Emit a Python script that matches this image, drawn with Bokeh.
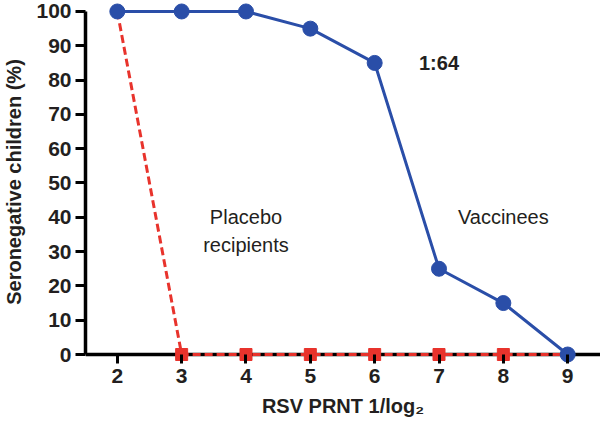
from bokeh.plotting import figure
from bokeh.models import Span, Label, FixedTicker, Range1d
from bokeh.embed import file_html
from bokeh.resources import INLINE

# ---- data ----
titer = [2, 3, 4, 5, 6, 7, 8, 9]
vaccinees = [100, 100, 100, 95, 85, 25, 15, 0]
placebo = [100, 0, 0, 0, 0, 0, 0, 0]
placebo_marker_x = [3, 4, 5, 6, 7, 8]
placebo_marker_y = [0, 0, 0, 0, 0, 0]
x_ticks = [2, 3, 4, 5, 6, 7, 8, 9]
y_ticks = [0, 10, 20, 30, 40, 50, 60, 70, 80, 90, 100]

BLUE = "#2a4ea8"
RED = "#e8332c"
INK = "#231f20"
FONT = "Liberation Sans"

p = figure(width=600, height=423, output_backend="svg", toolbar_location=None,
           x_range=Range1d(1.5055, 9.51), y_range=Range1d(-2.62, 103.2),
           min_border_left=82, min_border_right=0, min_border_top=0,
           min_border_bottom=60)
p.outline_line_color = None
p.xgrid.visible = False
p.ygrid.visible = False
p.background_fill_color = "white"

# x-axis line at y=0
base = Span(location=0, dimension="width", line_color="black", line_width=3.5)
base.level = "underlay"
p.add_layout(base)

# placebo (red dashed)
p.line(titer, placebo, line_color=RED, line_width=3, line_dash="8 4")
p.scatter(placebo_marker_x, placebo_marker_y, marker="square", size=12,
          fill_color=RED, line_color=RED)

# vaccinees (blue)
p.line(titer, vaccinees, line_color=BLUE, line_width=3)
p.scatter(titer, vaccinees, marker="circle", size=15, fill_color=BLUE, line_color=BLUE)

# axes
xa = p.xaxis[0]
xa.ticker = FixedTicker(ticks=x_ticks)
xa.axis_line_color = None
xa.major_tick_in = 9
xa.major_tick_out = 0
xa.major_tick_line_width = 3
xa.major_tick_line_color = "black"
xa.minor_tick_line_color = None
xa.major_label_standoff = 5
xa.major_label_text_font = FONT
xa.major_label_text_font_style = "bold"
xa.major_label_text_font_size = "21px"
xa.major_label_text_color = INK
xa.axis_label = "RSV PRNT 1/log₂"
xa.axis_label_text_font = FONT
xa.axis_label_text_font_style = "bold"
xa.axis_label_text_font_size = "20px"
xa.axis_label_text_color = INK
xa.axis_label_standoff = 9

ya = p.yaxis[0]
ya.ticker = FixedTicker(ticks=y_ticks)
ya.bounds = (0, 100)
ya.axis_line_width = 3.5
ya.axis_line_color = "black"
ya.major_tick_in = 0
ya.major_tick_out = 10
ya.major_tick_line_width = 3
ya.major_tick_line_color = "black"
ya.minor_tick_line_color = None
ya.major_label_standoff = 4
ya.major_label_text_font = FONT
ya.major_label_text_font_style = "bold"
ya.major_label_text_font_size = "21px"
ya.major_label_text_color = INK
ya.axis_label = "Seronegative children (%)"
ya.axis_label_text_font = FONT
ya.axis_label_text_font_style = "bold"
ya.axis_label_text_font_size = "20px"
ya.axis_label_text_color = INK
ya.axis_label_standoff = 8

# annotations
def lab(x, y, text, bold=False):
    p.add_layout(Label(x=x, y=y, text=text, text_align="center", text_baseline="middle",
                       text_font=FONT, text_font_size="20px",
                       text_font_style="bold" if bold else "normal", text_color=INK))

lab(7.0, 85, "1:64", bold=True)
lab(4.0, 40, "Placebo")
lab(4.0, 32, "recipients")
lab(8.0, 40, "Vaccinees")

open("out.html", "w").write(file_html(p, INLINE))
